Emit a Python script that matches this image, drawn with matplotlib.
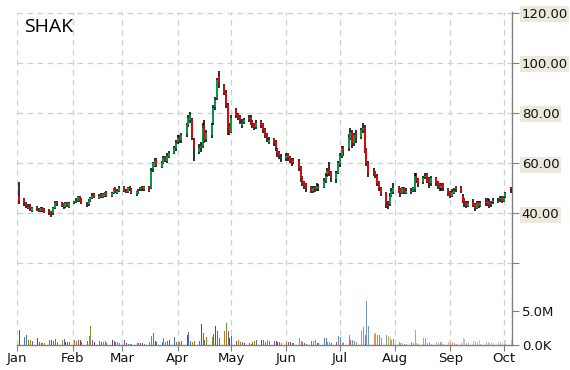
import matplotlib
matplotlib.use('Agg')
import matplotlib.pyplot as plt
import matplotlib.dates as mdates
import numpy as np
import pandas as pd

ticker = 'SHAK'
dates = pd.bdate_range('2015-01-02', '2015-10-05')

open_ = [47,
    45.5, 44, 42, 43, 41,
    42.5, 41.5, 41, 42, 41.5,
    41, 40.5, 40, 42, 44.5,
    44, 43.5, 42.5, 44, 42.5,
    44, 44.5, 45, 46.5, 45.5,
    44, 43.5, 45, 46, 47.5,
    46, 47.5, 46.5, 47, 48.5,
    47, 48, 50, 48, 49,
    50.5, 49, 48.5, 50.5, 49.5,
    47.5, 48, 49.5, 50.5, 49.5,
    50.5, 50, 57.5, 59, 61.5,
    58.5, 60, 62.5, 61, 62.5,
    64, 66, 68.5, 70.5, 69,
    71.5, 75, 77, 77.5, 69,
    64.5, 66, 67, 75, 69.5,
    71, 76, 82.5, 86, 94.5,
    91, 88, 83, 74.5, 72.5,
    81, 79.5, 78.5, 75, 76.5,
    77.5, 78.5, 76.5, 75.5, 74.5,
    76.5, 75.5, 73.5, 71.5, 68.5,
    69.5, 68.5, 65.5, 64.5, 62.5,
    62, 63.5, 62.5, 61.5, 60.5,
    61, 58.5, 54.5, 52.5, 51.5,
    50.5, 49, 50.5, 49.5, 51,
    50.5, 53, 55.5, 57.5, 56.5,
    53.5, 56, 59.5, 63, 66.5,
    66, 70, 72.5, 68, 71.5,
    70.5, 73, 74.5, 65.5, 60,
    57, 56.5, 55, 52.5, 50,
    48, 43.5, 43.5, 47, 48.5,
    50.5, 49.5, 48, 50, 48,
    48.5, 49, 49.5, 55, 53.5,
    52.5, 54.5, 55.5, 53.5, 52,
    54, 52.5, 51.5, 50, 51.5,
    49.5, 48.5, 47, 48, 49.5,
    50, 47, 45.5, 44, 43,
    44.5, 43.5, 42, 44.5, 43,
    44.5, 44, 45, 43.5, 44.5,
    44.5, 45.5, 46.5, 45, 46.5,
    50]

high = [52.5,
    46, 44.5, 43.5, 43.5, 42.5,
    43, 42, 42.5, 42.5, 42,
    41.5, 41, 42.5, 45, 45,
    44.5, 44, 44.5, 44.5, 44.5,
    45, 46, 47, 47, 46,
    44.5, 45.5, 46.5, 48, 48,
    47.5, 48, 48, 48.5, 49,
    48.5, 50, 50.5, 49.5, 51,
    51, 49.5, 50.5, 51, 50,
    49, 49.5, 50.5, 51, 51,
    51, 58, 60.5, 62, 62,
    61, 63, 63, 64, 65,
    67, 69, 71, 71, 72,
    76, 79, 80.5, 78, 70,
    67.5, 68.5, 76, 77, 73,
    76, 83, 86.5, 94, 96.5,
    91.5, 89, 84, 76, 79,
    82, 80, 79, 77.5, 78,
    79, 79, 77, 76, 77,
    77, 76, 74, 72, 70.5,
    70, 69, 66, 65, 63.5,
    64, 64, 63, 62, 62,
    61.5, 59, 55, 53, 52,
    51, 51, 51, 52, 51.5,
    54, 56, 58, 60.5, 57,
    57, 61, 64, 67, 67,
    71.5, 74, 73, 72, 73,
    74, 76, 75, 66, 61,
    58, 57, 55.5, 53, 50.5,
    48.5, 45, 48, 50, 52,
    51, 50, 50.5, 50.5, 50,
    50, 50.5, 56, 56, 54,
    55, 56, 56, 54.5, 55,
    54.5, 53, 52, 52, 52,
    50, 49, 49.5, 50, 51,
    51, 47.5, 46, 45, 45,
    45.5, 44, 45, 45, 45,
    46, 46, 45.5, 45, 46,
    46, 47, 47, 47, 48.5,
    50.5]

low = [43.5,
    43, 42, 41.5, 41, 40.5,
    41, 40.5, 40.5, 40.5, 40,
    39.5, 38.5, 39.5, 41.5, 43,
    42.5, 41.5, 42, 42.5, 42,
    43.5, 44, 44.5, 44.5, 43.5,
    42.5, 43, 44.5, 45.5, 46,
    45.5, 46, 46, 46.5, 46.5,
    46.5, 47.5, 48, 47.5, 48.5,
    48.5, 48, 48, 49, 47.5,
    47, 47.5, 49, 49, 49,
    48.5, 49.5, 56.5, 58.5, 58.5,
    58, 59.5, 60.5, 60, 62,
    63.5, 65, 67.5, 68, 68,
    70.5, 74.5, 76, 69, 61,
    63.5, 64.5, 66, 68, 68.5,
    70, 75, 81, 85, 90,
    87, 82, 71, 71, 72,
    78, 77, 75.5, 74, 75.5,
    76.5, 75, 74, 73, 73.5,
    74, 72, 70, 68.5, 67.5,
    67, 65, 62.5, 61.5, 60.5,
    61, 61, 60, 59, 59.5,
    57, 52.5, 51, 49.5, 48.5,
    48, 48, 48.5, 49, 49,
    50, 52, 54.5, 55, 52.5,
    52, 55.5, 58.5, 62, 63,
    65, 69, 66, 67, 68,
    69.5, 72, 64, 59, 54.5,
    55, 54, 51, 49, 47,
    42, 41.5, 43, 46.5, 47.5,
    48, 46.5, 47.5, 47.5, 47.5,
    47.5, 48.5, 48.5, 52, 50.5,
    51.5, 53.5, 52, 50, 51,
    51, 49.5, 49, 49, 49,
    47, 46, 46.5, 47.5, 48.5,
    48, 44, 42.5, 42, 42.5,
    42.5, 41, 41.5, 42, 42.5,
    43, 43, 42, 42.5, 43.5,
    44, 44.5, 44, 44.5, 46,
    48]

close = [45,
    44, 43, 42.5, 41.5, 42,
    41.5, 41, 42, 41, 40.5,
    40, 39.5, 42, 44, 43.5,
    43, 42.5, 44, 43, 44,
    44.5, 45, 46.5, 45, 44,
    43.5, 45, 46, 47, 46.5,
    47, 46.5, 47.5, 48, 47,
    48, 49.5, 48.5, 49, 50,
    49, 48.5, 50, 49.5, 48,
    48.5, 49, 50, 49.5, 50.5,
    49, 57, 60, 61, 59,
    60, 62, 61, 63, 64,
    66, 68, 70, 69, 71,
    75, 78, 79, 70, 66,
    66, 67, 74, 69, 72,
    75, 82, 85, 93, 92,
    88, 83, 74, 72, 78,
    79, 78, 77, 76, 77,
    78, 76, 75, 74, 76,
    75, 73, 71, 70, 69,
    68, 66, 64, 63, 62,
    63, 62, 61, 60, 61,
    58, 54, 52, 51, 50,
    49, 50, 49.5, 51, 50,
    53, 55, 57, 56, 54,
    56, 60, 63, 66, 65,
    70, 72, 68, 71, 70,
    73, 74, 65, 60, 56,
    56, 55, 52, 50, 48,
    44, 43, 47, 49, 50,
    49, 48, 50, 48.5, 49,
    49, 50, 55, 53, 52,
    54, 55, 53, 52, 54,
    52, 51, 50, 51, 50,
    48, 47, 48.5, 49, 50,
    49, 45, 44, 43, 44,
    43, 42, 44, 43, 44,
    44, 45, 43, 44, 45,
    45, 46, 45, 46, 48,
    49.5]

volume_m = [2.2,
    1.2, 1.5, 0.7, 0.7, 0.6,
    1.0, 0.4, 0.35, 0.3, 0.35,
    0.7, 0.8, 0.6, 0.9, 0.5,
    0.8, 0.9, 0.5, 0.4, 0.5,
    0.8, 0.6, 0.7, 0.8, 0.4,
    0.6, 1.3, 2.8, 0.8, 0.4,
    0.6, 0.5, 0.4, 0.6, 0.3,
    0.8, 0.6, 0.5, 0.4, 0.3,
    0.8, 0.3, 0.1, 0.1, 0.2,
    0.3, 0.35, 0.3, 0.3, 0.2,
    0.4, 1.3, 1.7, 0.6, 0.4,
    0.5, 1.0, 0.5, 0.6, 0.7,
    1.2, 0.5, 0.5, 0.4, 0.6,
    1.5, 1.9, 0.6, 0.5, 0.6,
    0.6, 3.1, 1.7, 0.7, 1.2,
    1.2, 1.6, 2.8, 2.0, 1.0,
    2.1, 3.3, 2.0, 1.0, 1.3,
    0.6, 0.7, 0.5, 0.4, 0.3,
    0.3, 0.2, 0.4, 0.6, 0.8,
    0.8, 0.7, 0.4, 0.8, 0.6,
    0.6, 0.6, 0.5, 0.4, 0.3,
    0.5, 0.4, 0.5, 0.3, 0.3,
    1.1, 0.6, 0.5, 0.3, 0.2,
    0.6, 0.6, 0.8, 0.3, 0.3,
    1.0, 1.0, 0.5, 0.4, 0.3,
    0.5, 1.3, 1.2, 0.3, 0.5,
    1.5, 0.7, 0.7, 0.6, 0.4,
    2.0, 2.7, 1.5, 6.5, 2.8,
    1.6, 1.7, 1.5, 1.4, 1.0,
    1.5, 1.3, 1.0, 0.8, 0.9,
    0.4, 0.35, 0.3, 0.2, 0.2,
    0.4, 0.3, 2.2, 0.3, 0.2,
    1.1, 1.1, 0.3, 0.4, 0.2,
    0.5, 0.3, 0.5, 0.5, 0.2,
    0.5, 0.4, 0.5, 0.3, 0.2,
    0.3, 1.0, 0.9, 0.3, 0.3,
    0.6, 0.6, 0.5, 0.7, 0.2,
    0.5, 0.4, 0.3, 0.5, 0.3,
    0.4, 0.5, 0.3, 0.2, 0.8,
    0.8]

price_ticks = [20, 40, 60, 80, 100, 120]
price_labels = ['', '40.00', '60.00', '80.00', '100.00', '120.00']
vol_ticks = [0, 5e6]
vol_labels = ['0.0K', '5.0M']
month_starts = pd.date_range('2015-01-01', '2015-10-01', freq='MS')
month_labels = [d.strftime('%b') for d in month_starts]

o = np.array(open_); h = np.array(high); l = np.array(low); c = np.array(close)
v = np.array(volume_m) * 1e6
x = mdates.date2num(dates)

W, H = 570, 370
fig = plt.figure(figsize=(W / 100, H / 100), dpi=100)
ax = fig.add_axes([17 / W, 25 / H, 495 / W, 333 / H])
axv = ax.twinx()

grid_kw = dict(color='#cfcfcf', linestyle=(0, (4.5, 3.5)), linewidth=0.9)
ax.grid(True, **grid_kw)
ax.set_axisbelow(True)

# candles
ax.vlines(x, l, h, colors='black', linewidth=1.15, zorder=3)
body_colors = ['#00b050' if cc >= oo else '#ff0000' for oo, cc in zip(o, c)]
ax.vlines(x, np.minimum(o, c), np.maximum(o, c), colors=body_colors,
          linewidth=1.15, zorder=4)

# volume
palette = ['#953735', '#4a6fb5', '#31859c', '#e46c0a', '#77933c', '#7a5d9c']
n = len(x)
vcols = []
for i in range(n):
    base = matplotlib.colors.to_rgb(palette[i % len(palette)])
    a = 1.0 if i < 100 else max(0.35, 1.0 - 0.65 * (i - 100) / (n - 100))
    vcols.append((*base, a))
axv.vlines(x, 0, v, colors=vcols, linewidth=0.7, antialiased=False)

x0 = mdates.date2num(pd.Timestamp('2015-01-01')) - 0.2
ax.set_xlim(x0, x0 + 277.9)
ax.set_ylim(-12.5, 120.2)
axv.set_ylim(0, 5e6 * 333 / 34)

ax.yaxis.tick_right()
ax.set_yticks(price_ticks)
ax.set_yticklabels(price_labels)
axv.set_yticks(vol_ticks)
axv.set_yticklabels(vol_labels)
ax.set_xticks(mdates.date2num(month_starts))
ax.set_xticklabels(month_labels)

for a in (ax, axv):
    a.tick_params(axis='y', which='both', direction='out', length=5, width=0.8,
                  color='#808080', labelsize=9.5, pad=2, labelcolor='#111111')
ax.tick_params(axis='x', direction='out', length=4, width=0.8, color='#808080',
               labelsize=9.5, pad=1, labelcolor='#111111')

for lab in ax.get_yticklabels():
    lab.set_bbox(dict(facecolor='#ece9dc', edgecolor='none', pad=1.0))

for s in ('top', 'left'):
    ax.spines[s].set_visible(False)
for s in ('right', 'bottom'):
    ax.spines[s].set_color('#808080')
    ax.spines[s].set_linewidth(1.0)
for s in axv.spines.values():
    s.set_visible(False)

ax.text(7 / 495, 1 - 6 / 333, ticker, transform=ax.transAxes, fontsize=14,
        va='top', ha='left', family='Open Sans', color='black')

fig.savefig('out.png', dpi=100)
